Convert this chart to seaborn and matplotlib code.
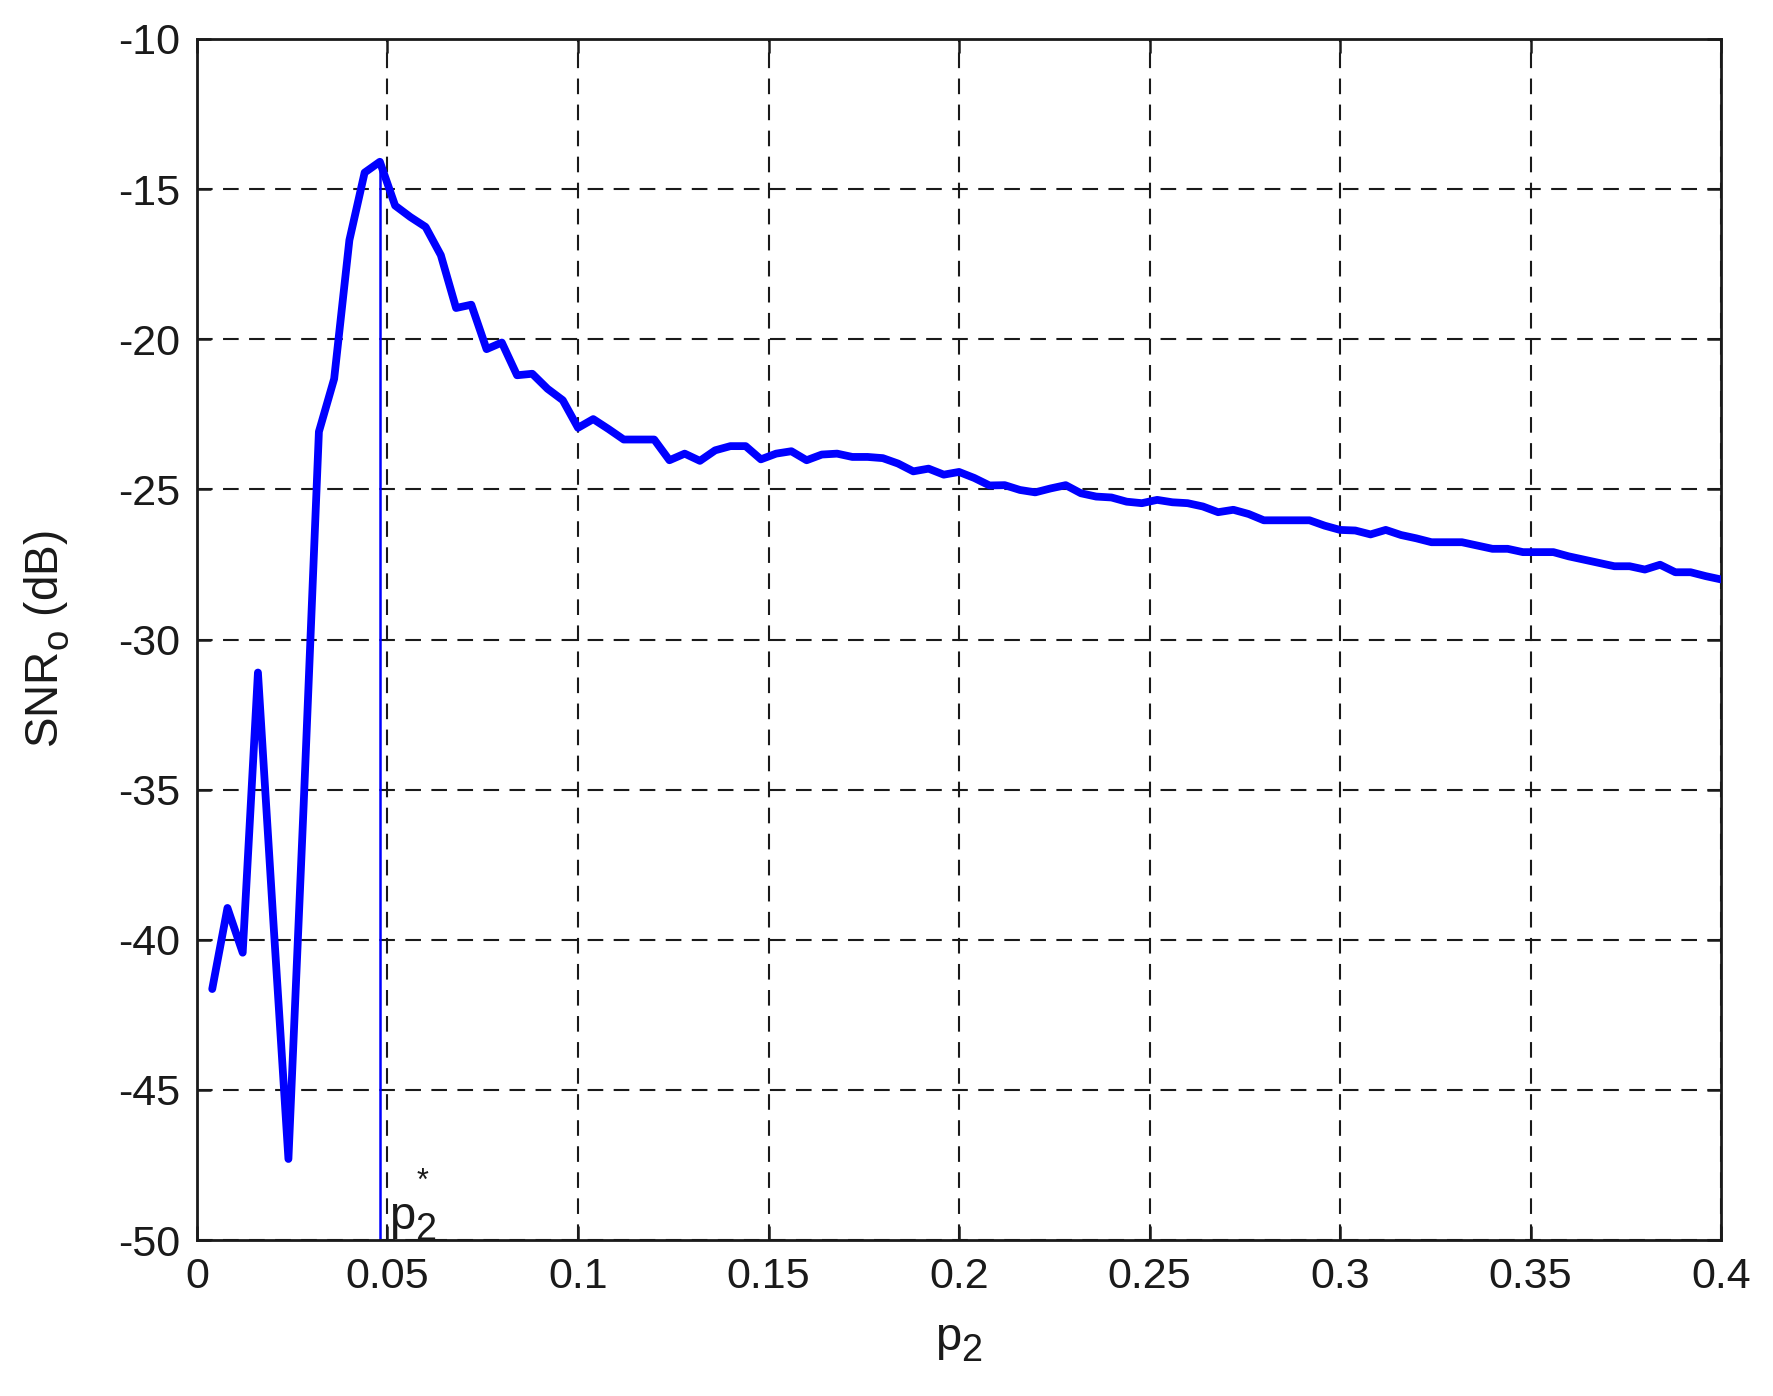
import matplotlib
matplotlib.use("Agg")
import matplotlib.pyplot as plt
import seaborn as sns
import pandas as pd

try:
    import matplotlib._mathtext as _mt
    _mt.SHRINK_FACTOR = 0.8
    _mt.FontConstantsBase.sub1 = 0.45
    _mt.FontConstantsBase.sub2 = 0.6
    _mt.FontConstantsBase.sup1 = 0.9
except Exception:
    pass

# ---- data ----
p2 = [0.004, 0.008, 0.012, 0.016, 0.020, 0.024, 0.028, 0.032, 0.036, 0.040,
      0.044, 0.048, 0.052, 0.056, 0.060, 0.064, 0.068, 0.072, 0.076, 0.080,
      0.084, 0.088, 0.092, 0.096, 0.100, 0.104, 0.108, 0.112, 0.116, 0.120,
      0.124, 0.128, 0.132, 0.136, 0.140, 0.144, 0.148, 0.152, 0.156, 0.160,
      0.164, 0.168, 0.172, 0.176, 0.180, 0.184, 0.188, 0.192, 0.196, 0.200,
      0.204, 0.208, 0.212, 0.216, 0.220, 0.224, 0.228, 0.232, 0.236, 0.240,
      0.244, 0.248, 0.252, 0.256, 0.260, 0.264, 0.268, 0.272, 0.276, 0.280,
      0.284, 0.288, 0.292, 0.296, 0.300, 0.304, 0.308, 0.312, 0.316, 0.320,
      0.324, 0.328, 0.332, 0.336, 0.340, 0.344, 0.348, 0.352, 0.356, 0.360,
      0.364, 0.368, 0.372, 0.376, 0.380, 0.384, 0.388, 0.392, 0.396, 0.400]

snr_db = [-41.64, -38.94, -40.43, -31.10, -39.30, -47.30, -35.50, -23.08, -21.32, -16.70,
          -14.45, -14.09, -15.55, -15.93, -16.26, -17.20, -18.96, -18.85, -20.33, -20.11,
          -21.20, -21.15, -21.65, -22.03, -22.95, -22.66, -22.99, -23.34, -23.34, -23.34,
          -24.03, -23.81, -24.05, -23.70, -23.56, -23.56, -24.00, -23.81, -23.73, -24.03,
          -23.84, -23.81, -23.92, -23.92, -23.96, -24.14, -24.40, -24.31, -24.51, -24.42,
          -24.62, -24.87, -24.86, -25.02, -25.10, -24.97, -24.86, -25.13, -25.24, -25.27,
          -25.41, -25.46, -25.35, -25.43, -25.46, -25.57, -25.76, -25.68, -25.82, -26.03,
          -26.03, -26.03, -26.03, -26.21, -26.35, -26.37, -26.50, -26.35, -26.52, -26.63,
          -26.76, -26.76, -26.76, -26.87, -26.98, -26.98, -27.09, -27.09, -27.09, -27.23,
          -27.34, -27.45, -27.56, -27.56, -27.67, -27.51, -27.76, -27.76, -27.89, -28.00]

p2_star = 0.048
p2_star_snr = -14.09

x_ticks = [0, 0.05, 0.1, 0.15, 0.2, 0.25, 0.3, 0.35, 0.4]
x_tick_labels = ["0", "0.05", "0.1", "0.15", "0.2", "0.25", "0.3", "0.35", "0.4"]
y_ticks = [-50, -45, -40, -35, -30, -25, -20, -15, -10]
y_tick_labels = ["-50", "-45", "-40", "-35", "-30", "-25", "-20", "-15", "-10"]

x_label = r"$\mathregular{p_2}$"
y_label = r"$\mathregular{SNR_o}$ (dB)"
star_base = r"$\mathregular{p_2}$"
star_mark = "*"

# ---- style ----
sns.set_theme(style="white")
plt.rcParams["font.family"] = ["Liberation Sans", "DejaVu Sans"]
plt.rcParams["mathtext.fontset"] = "custom"
plt.rcParams["mathtext.rm"] = "Liberation Sans"
plt.rcParams["mathtext.it"] = "Liberation Sans"
plt.rcParams["mathtext.default"] = "regular"
plt.rcParams["axes.unicode_minus"] = False
plt.rcParams["text.color"] = "k"

FS = 31

fig = plt.figure(figsize=(17.73, 13.96), dpi=100)
ax = fig.add_axes([0.1111, 0.1117, 0.8596, 0.8604])

df = pd.DataFrame({"p2": p2, "snr": snr_db})
sns.lineplot(data=df, x="p2", y="snr", ax=ax, color=(0, 0, 1), linewidth=5.6,
             solid_joinstyle="round", zorder=3)

# vertical marker at p2*
ax.plot([p2_star, p2_star], [-50, p2_star_snr], color=(0, 0, 1), linewidth=1.8, zorder=2)
ax.text(p2_star + 0.0024, -50.1, star_base, fontsize=34, color="k",
        ha="left", va="bottom", zorder=4)
ax.text(p2_star + 0.0112, -48.55, star_mark, fontsize=22, color="k",
        ha="center", va="bottom", zorder=4)

ax.set_xlim(0, 0.4)
ax.set_ylim(-50, -10)
ax.set_xticks(x_ticks)
ax.set_xticklabels(x_tick_labels)
ax.set_yticks(y_ticks)
ax.set_yticklabels(y_tick_labels)

ax.grid(True, color="k", linestyle=(0, (7.5, 5.0)), linewidth=1.5)
ax.set_axisbelow(True)

for s in ax.spines.values():
    s.set_visible(True)
    s.set_color("k")
    s.set_linewidth(2.0)

ax.tick_params(axis="both", which="major", direction="in", length=10, width=1.8,
               colors="k", labelsize=FS, pad=12,
               top=True, right=True, bottom=True, left=True)

ax.set_xlabel(x_label, fontsize=34, color="k", va="center")
ax.xaxis.set_label_coords(0.5, -0.085)
ax.set_ylabel(y_label, fontsize=33, color="k", va="center")
ax.yaxis.set_label_coords(-0.098, 0.5)

fig.savefig("out.png", dpi=100, facecolor="white")
